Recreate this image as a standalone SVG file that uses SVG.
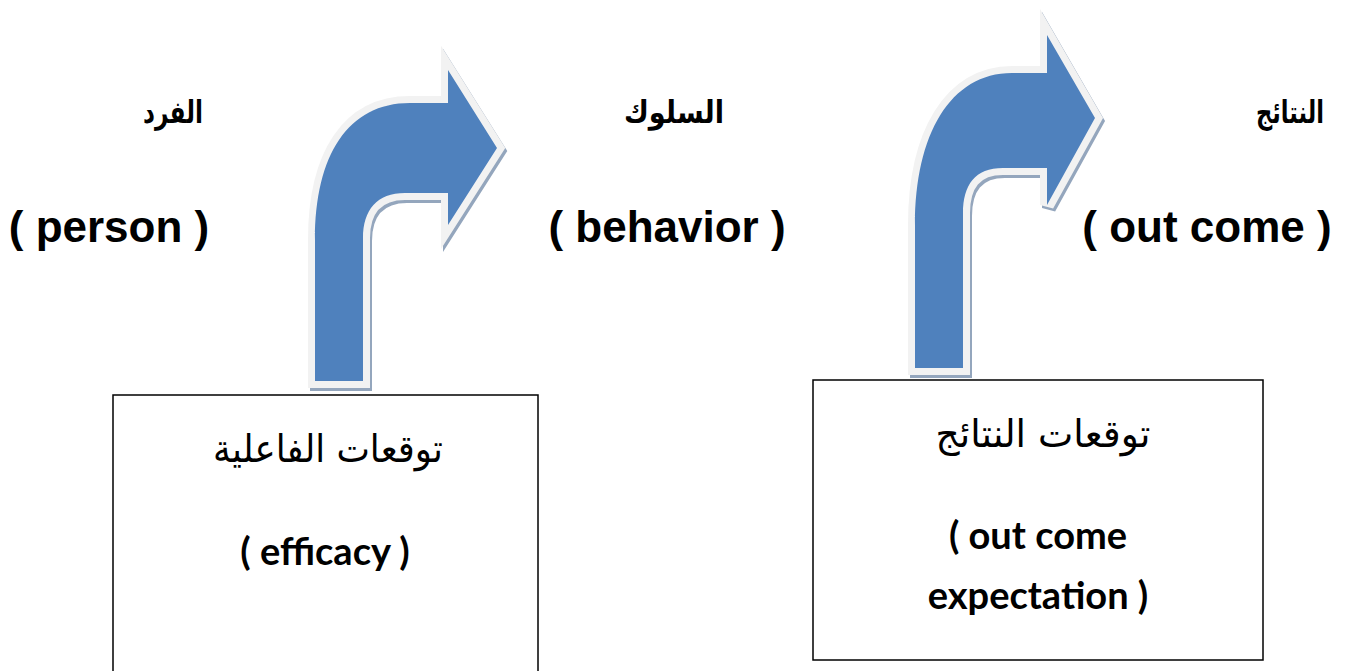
<svg xmlns="http://www.w3.org/2000/svg" width="1358" height="671" viewBox="0 0 1358 671">
  <style>
    .ar-head { font-family: "DejaVu Sans", sans-serif; font-weight: bold; font-size: 31px; fill: #000; text-anchor: middle; }
    .en-head { font-family: "Liberation Sans", Arial, sans-serif; font-weight: bold; font-size: 44px; fill: #000; text-anchor: middle; }
    .ar-box { font-family: "DejaVu Sans", sans-serif; font-size: 38px; fill: #000; text-anchor: middle; }
    .en-box { font-family: Lato, "Open Sans", sans-serif; font-weight: bold; font-size: 38px; fill: #000; text-anchor: middle; }
    .box { fill: #fff; stroke: #000; stroke-width: 1.5; }
    .arrow-shadow { fill: #94a6bd; stroke: #94a6bd; stroke-width: 14; stroke-linejoin: miter; }
    .arrow-rim { fill: #f2f2f2; stroke: #f2f2f2; stroke-width: 14; stroke-linejoin: miter; }
    .arrow-body { fill: #4f81bd; }
  </style>
  <defs>
    <path id="bend1" d="M 315 381 L 315 240 C 315 155 348 103 410 103 L 448 103 L 448 70 L 497 148 L 448 225 L 448 193 L 405 193 C 377 193 363 210 363 238 L 363 381 Z"/>
    <path id="bend2" d="M 915 368 L 915 225 C 915 135 950 73 1012 73 L 1047 73 L 1047 35 L 1095 118 L 1047 205 L 1047 168 L 1003 168 C 975 168 963 185 963 213 L 963 368 Z"/>
  </defs>

  <!-- bent arrows -->
  <g id="connectors">
    <g id="arrow-person-behavior">
      <use href="#bend1" class="arrow-shadow" transform="translate(2,3)"/>
      <use href="#bend1" class="arrow-rim"/>
      <use href="#bend1" class="arrow-body"/>
    </g>
    <g id="arrow-behavior-outcome">
      <use href="#bend2" class="arrow-shadow" transform="translate(2,3)"/>
      <use href="#bend2" class="arrow-rim"/>
      <use href="#bend2" class="arrow-body"/>
    </g>
  </g>

  <g id="person">
    <text class="ar-head" x="173" y="123" textLength="60" lengthAdjust="spacingAndGlyphs">الفرد</text>
    <text class="en-head" x="109" y="242">( person )</text>
  </g>

  <g id="behavior">
    <text class="ar-head" x="674" y="123" textLength="100" lengthAdjust="spacingAndGlyphs">السلوك</text>
    <text class="en-head" x="667" y="242">( behavior )</text>
  </g>

  <g id="outcome">
    <text class="ar-head" x="1290" y="123" textLength="68" lengthAdjust="spacingAndGlyphs">النتائج</text>
    <text class="en-head" x="1207" y="242">( out come )</text>
  </g>

  <g id="efficacy">
    <rect class="box" x="113" y="395" width="425" height="290"/>
    <text class="ar-box" x="328" y="462" textLength="230" lengthAdjust="spacingAndGlyphs">توقعات الفاعلية</text>
    <text class="en-box" x="325" y="565">( efficacy )</text>
  </g>

  <g id="outcome-expectation">
    <rect class="box" x="813" y="380" width="450" height="280"/>
    <text class="ar-box" x="1043" y="447" textLength="215" lengthAdjust="spacingAndGlyphs">توقعات النتائج</text>
    <text class="en-box" x="1038" y="549">( out come</text>
    <text class="en-box" x="1038" y="609">expectation )</text>
  </g>
</svg>
